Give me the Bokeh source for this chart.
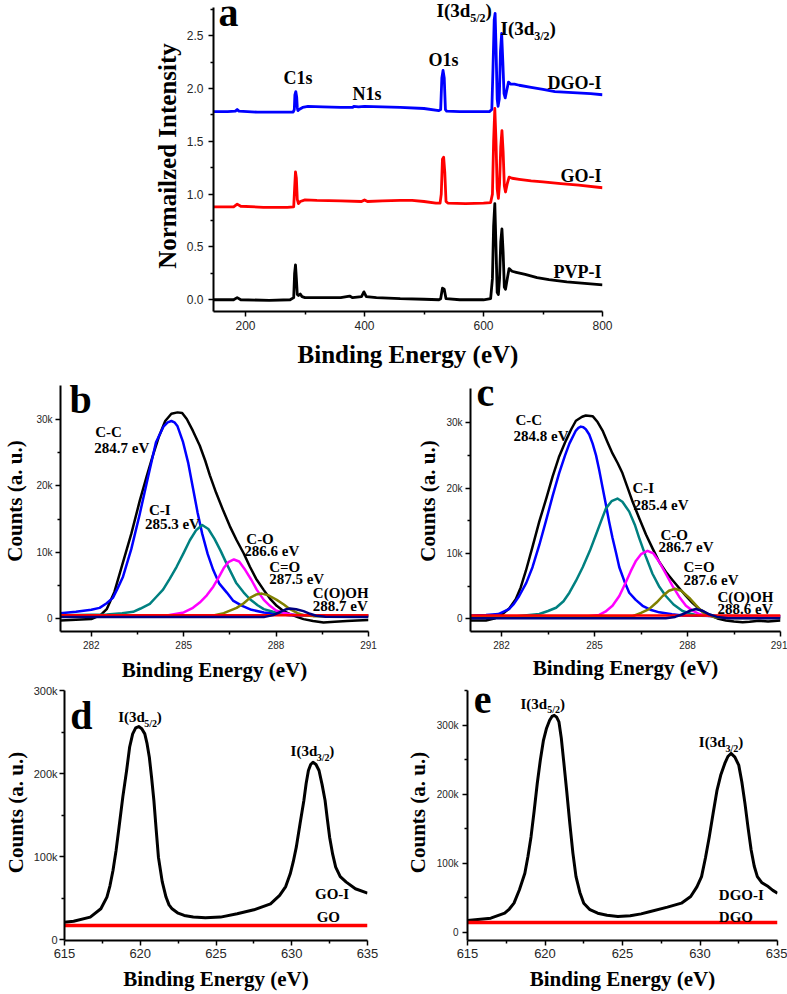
from bokeh.plotting import figure
from bokeh.models import Range1d, FixedTicker, Label, NumeralTickFormatter
from bokeh.layouts import column, row
from bokeh.embed import file_html
from bokeh.resources import INLINE

SERIF = "Liberation Serif"
SANS = "Liberation Sans"

# ---------------- panel a: XPS survey spectra (normalized) ----------------
a_dgo_x = [146, 170, 183, 186, 189, 220, 260, 280, 282, 283, 284.5, 286, 287, 288, 290, 296, 305, 330,
           360, 380, 382, 390, 400, 430, 460, 500, 525, 528, 530, 532, 534, 536, 538, 560, 590, 610,
           614, 616, 618, 619.5, 621, 623, 624.5, 626.5, 628.5, 630.5, 632.5, 634.5, 636.5, 639, 642,
           646, 652, 660, 680, 700, 720, 750, 780, 800]
a_dgo_y = [1.78, 1.78, 1.785, 1.80, 1.785, 1.775, 1.775, 1.775, 1.80, 1.94, 1.97, 1.92, 1.82, 1.79, 1.80,
           1.82, 1.83, 1.825, 1.82, 1.82, 1.83, 1.825, 1.83, 1.825, 1.82, 1.81, 1.79, 1.80, 2.10, 2.17,
           2.10, 1.80, 1.785, 1.78, 1.78, 1.78, 1.80, 2.20, 2.65, 2.71, 2.40, 1.90, 1.83, 1.90, 2.35,
           2.52, 2.25, 1.95, 1.91, 1.98, 2.06, 2.04, 2.04, 2.03, 2.01, 1.99, 1.97, 1.96, 1.95, 1.94]

a_go_x = [146, 180, 186, 192, 230, 270, 281, 282.5, 284, 285.5, 287, 289, 292, 300, 320, 360, 395, 400,
          405, 430, 460, 480, 500, 520, 527, 529, 531, 533, 535, 537, 540, 570, 600, 612, 615, 617,
          619, 621, 623, 625, 627, 629, 631, 633, 635, 637, 640, 643, 648, 660, 680, 700, 730, 760, 800]
a_go_y = [0.88, 0.88, 0.905, 0.885, 0.875, 0.875, 0.88, 1.05, 1.21, 1.15, 0.95, 0.91, 0.93, 0.945, 0.94,
          0.935, 0.93, 0.945, 0.93, 0.935, 0.94, 0.94, 0.93, 0.915, 0.915, 1.00, 1.33, 1.35, 1.20, 0.93,
          0.915, 0.91, 0.915, 0.92, 1.00, 1.50, 1.81, 1.50, 1.05, 0.96, 1.10, 1.45, 1.60, 1.40, 1.08,
          1.02, 1.10, 1.16, 1.15, 1.14, 1.125, 1.115, 1.10, 1.085, 1.06]

a_pvp_x = [146, 180, 186, 192, 240, 275, 281, 282.5, 284, 285.5, 287, 289, 292, 295, 300, 320, 360, 370,
           375, 380, 395, 399, 403, 420, 460, 500, 525, 528, 531, 534, 537, 560, 600, 612, 615, 617,
           619, 621, 623, 625, 627, 629, 631, 633, 635, 637, 640, 643, 648, 655, 670, 690, 710, 740,
           770, 800]
a_pvp_y = [0.0, 0.0, 0.02, 0.0, -0.005, 0.0, 0.02, 0.25, 0.33, 0.20, 0.05, 0.04, 0.055, 0.03, 0.02, 0.02,
           0.02, 0.03, 0.035, 0.02, 0.03, 0.075, 0.03, 0.02, 0.01, 0.005, 0.0, 0.01, 0.11, 0.10, 0.01,
           0.0, 0.0, 0.01, 0.20, 0.70, 0.91, 0.50, 0.07, 0.05, 0.20, 0.55, 0.67, 0.45, 0.12, 0.10, 0.20,
           0.295, 0.27, 0.26, 0.24, 0.21, 0.19, 0.17, 0.155, 0.14]

# ---------------- panel b: C1s of GO-I (counts in thousands) ----------------
b_env_x = [281.0, 281.5, 282.0, 282.3, 282.5, 282.75, 283.0, 283.3, 283.57, 283.8, 284.0, 284.2, 284.4,
           284.6, 284.8, 284.95, 285.1, 285.3, 285.52, 285.7, 285.85, 286.05, 286.29, 286.5, 286.72,
           286.95, 287.15, 287.35, 287.59, 287.8, 288.02, 288.25, 288.45, 288.7, 288.89, 289.2, 289.54,
           289.9, 290.3, 290.63, 291.0]
b_env_y = [-0.3, -0.2, -0.1, 0.5, 1.4, 4.0, 8.0, 12.8, 17.7, 21.5, 24.6, 27.5, 29.8, 30.9, 31.1, 31.0,
           30.1, 28.3, 26.1, 23.8, 21.6, 19.0, 16.2, 13.9, 11.8, 9.8, 7.8, 6.0, 4.35, 3.0, 1.9, 1.1, 0.65,
           0.2, -0.1, -0.4, -0.6, -0.5, -0.4, -0.3, -0.25]
b_cc_x = [281.0, 281.5, 282.0, 282.27, 282.5, 282.7, 282.85, 283.03, 283.3, 283.57, 283.85, 284.1, 284.35,
          284.48, 284.6, 284.7, 284.8, 284.98, 285.15, 285.3, 285.45, 285.6, 285.78, 285.96, 286.15, 286.4,
          286.6, 286.9, 287.2, 287.6, 288.0, 288.45, 289.0, 290.0, 291.0]
b_cc_y = [0.8, 1.0, 1.3, 1.6, 2.3, 3.1, 4.5, 6.3, 10.5, 15.7, 21.5, 26.6, 29.0, 29.6, 29.8, 29.6, 29.0,
          26.6, 23.4, 19.7, 16.0, 12.8, 9.7, 7.3, 5.3, 3.9, 2.7, 1.9, 1.3, 0.9, 0.7, 0.5, 0.45, 0.4, 0.4]
b_ci_x = [281.0, 282.0, 282.5, 283.0, 283.36, 283.6, 283.9, 284.1, 284.33, 284.55, 284.77, 285.0, 285.2,
          285.4, 285.6, 285.8, 286.0, 286.2, 286.4, 286.7, 286.95, 287.15, 287.4, 287.6, 287.9, 288.2,
          288.6, 289.0, 291.0]
b_ci_y = [0.5, 0.55, 0.6, 0.8, 1.0, 1.5, 2.2, 3.2, 4.35, 6.0, 7.8, 9.9, 11.8, 13.3, 14.1, 13.5, 12.0, 10.2,
          8.2, 5.4, 3.9, 2.9, 2.0, 1.4, 1.0, 0.7, 0.55, 0.5, 0.5]
b_co_x = [281.0, 284.5, 285.0, 285.3, 285.52, 285.75, 285.96, 286.15, 286.3, 286.45, 286.63, 286.8, 287.0,
          287.2, 287.37, 287.6, 287.8, 288.0, 288.2, 288.5, 289.0, 291.0]
b_co_y = [0.5, 0.5, 0.9, 1.6, 2.4, 3.5, 4.8, 6.3, 7.6, 8.5, 8.9, 8.6, 7.3, 5.8, 4.35, 2.8, 1.9, 1.2, 0.9,
          0.6, 0.5, 0.5]
b_cdo_x = [281.0, 286.0, 286.3, 286.72, 286.95, 287.15, 287.35, 287.54, 287.75, 288.02, 288.25, 288.45,
           288.7, 288.89, 289.2, 291.0]
b_cdo_y = [0.5, 0.5, 0.8, 1.6, 2.3, 3.1, 3.6, 3.75, 3.5, 2.8, 2.1, 1.4, 0.8, 0.5, 0.35, 0.3]
b_cooh_x = [281.0, 287.6, 287.9, 288.1, 288.3, 288.45, 288.65, 288.89, 289.1, 289.3, 289.6, 291.0]
b_cooh_y = [0.2, 0.2, 0.5, 0.9, 1.35, 1.5, 1.4, 1.1, 0.7, 0.4, 0.25, 0.2]
b_base_x = [281.0, 291.0]
b_base_y = [0.5, 0.5]

# ---------------- panel c: C1s of DGO-I (counts in thousands) ----------------
c_env_x = [281.0, 281.5, 281.8, 282.03, 282.25, 282.46, 282.62, 282.79, 283.0, 283.22, 283.45, 283.65,
           283.85, 284.08, 284.25, 284.4, 284.6, 284.72, 284.94, 285.1, 285.26, 285.42, 285.58, 285.75,
           285.9, 286.05, 286.23, 286.45, 286.66, 286.88, 287.09, 287.3, 287.52, 287.75, 287.95, 288.15,
           288.38, 288.6, 288.81, 289.0, 289.24, 289.5, 289.78, 290.0, 290.31, 290.6, 291.0]
c_env_y = [-0.25, -0.25, 0.1, 0.74, 1.6, 3.0, 4.8, 7.4, 11.0, 14.9, 18.5, 21.8, 24.7, 27.3, 29.0, 30.3,
           30.9, 31.1, 31.0, 30.1, 28.8, 27.0, 25.3, 23.8, 22.3, 20.3, 17.9, 15.3, 12.9, 10.7, 8.7, 7.2,
           5.9, 4.6, 3.5, 2.5, 1.5, 0.9, 0.4, 0.0, -0.25, -0.4, -0.5, -0.45, -0.3, -0.4, -0.25]
c_cc_x = [281.0, 281.5, 281.9, 282.24, 282.4, 282.57, 282.8, 283.0, 283.22, 283.43, 283.65, 283.86, 284.05,
          284.19, 284.4, 284.48, 284.56, 284.64, 284.72, 284.83, 284.94, 285.05, 285.15, 285.26, 285.37,
          285.47, 285.58, 285.7, 285.8, 285.96, 286.12, 286.33, 286.55, 286.8, 287.09, 287.5, 287.84,
          289.0, 291.0]
c_cc_y = [0.5, 0.6, 0.74, 1.5, 2.3, 3.5, 5.5, 7.9, 11.3, 14.9, 18.8, 22.3, 25.0, 26.8, 28.8, 29.2, 29.4,
          29.3, 29.0, 28.2, 26.8, 25.0, 22.8, 20.1, 17.4, 14.9, 12.4, 10.0, 7.9, 5.8, 4.0, 2.9, 2.0, 1.4,
          1.0, 0.7, 0.5, 0.45, 0.4]
c_ci_x = [281.0, 282.5, 283.22, 283.5, 283.76, 284.0, 284.19, 284.4, 284.62, 284.85, 285.05, 285.2, 285.37,
          285.55, 285.74, 285.9, 286.12, 286.3, 286.44, 286.65, 286.87, 287.08, 287.3, 287.55, 287.84,
          288.1, 288.38, 289.0, 291.0]
c_ci_y = [0.4, 0.4, 0.74, 1.2, 1.7, 2.7, 4.0, 5.8, 7.9, 10.4, 12.9, 14.8, 16.9, 18.0, 18.4, 17.9, 16.4,
          14.4, 12.4, 9.6, 6.9, 5.0, 3.5, 2.2, 1.2, 0.8, 0.5, 0.4, 0.4]
c_co_x = [281.0, 284.8, 285.15, 285.35, 285.58, 285.8, 286.0, 286.17, 286.34, 286.5, 286.71, 286.9, 287.09,
          287.3, 287.52, 287.73, 287.95, 288.15, 288.38, 288.7, 291.0]
c_co_y = [0.4, 0.4, 0.6, 1.1, 2.0, 3.5, 5.5, 7.3, 8.9, 9.9, 10.4, 10.0, 8.7, 6.9, 5.0, 3.4, 2.0, 1.3, 0.74,
          0.45, 0.4]
c_cdo_x = [281.0, 285.8, 286.23, 286.5, 286.76, 287.0, 287.2, 287.4, 287.6, 287.8, 288.06, 288.27, 288.49,
           288.7, 288.92, 289.3, 291.0]
c_cdo_y = [0.3, 0.3, 0.4, 0.9, 1.5, 2.5, 3.5, 4.3, 4.6, 4.3, 3.2, 2.1, 1.0, 0.5, 0.2, 0.15, 0.15]
c_cooh_x = [281.0, 287.3, 287.6, 287.84, 288.05, 288.27, 288.5, 288.7, 288.95, 289.3, 291.0]
c_cooh_y = [0.1, 0.1, 0.3, 0.7, 1.2, 1.5, 1.2, 0.7, 0.3, 0.1, 0.1]
c_base_x = [281.0, 291.0]
c_base_y = [0.5, 0.5]

# ---------------- panel d: I3d of GO-I vs GO (counts in thousands) ----------------
d_goi_x = [615.0, 615.6, 616.7, 617.4, 617.8, 618.0, 618.2, 618.4, 618.6, 618.85, 619.1, 619.3, 619.5,
           619.7, 619.9, 620.1, 620.3, 620.45, 620.6, 620.75, 620.9, 621.05, 621.2, 621.45, 621.7, 621.9,
           622.1, 622.5, 622.9, 623.5, 624.3, 625.3, 626.4, 627.5, 628.6, 629.2, 629.6, 629.9, 630.1,
           630.3, 630.55, 630.8, 630.95, 631.1, 631.25, 631.4, 631.6, 631.8, 632.0, 632.2, 632.35, 632.5,
           632.7, 632.9, 633.2, 633.6, 634.2, 635.0]
d_goi_y = [21.2, 22.4, 27.3, 37.3, 51.4, 65.0, 83.4, 107.0, 135.5, 172.0, 203.7, 232.0, 247.8, 255.0,
           256.6, 254.0, 247.8, 236.0, 219.7, 195.0, 167.6, 133.0, 99.4, 70.0, 51.4, 42.0, 37.3, 32.0,
           29.3, 27.5, 26.5, 27.3, 31.3, 36.1, 43.3, 53.4, 64.0, 79.4, 94.0, 111.5, 140.0, 167.6, 188.0,
           203.7, 211.0, 213.7, 211.0, 203.7, 187.0, 167.6, 145.0, 123.5, 103.0, 87.4, 76.0, 69.4, 61.4,
           56.2]
d_go_x = [615.0, 620.0, 625.0, 630.0, 635.0]
d_go_y = [17.2, 17.3, 17.2, 17.3, 17.2]

# ---------------- panel e: I3d of DGO-I vs DGO (counts in thousands) ----------------
e_dgoi_x = [615.0, 616.5, 617.4, 617.7, 618.0, 618.35, 618.7, 618.9, 619.1, 619.3, 619.5, 619.7, 619.9,
            620.1, 620.3, 620.45, 620.6, 620.75, 620.9, 621.05, 621.2, 621.4, 621.6, 621.8, 622.0, 622.25,
            622.5, 622.9, 623.4, 624.0, 624.7, 625.5, 626.2, 626.8, 627.9, 628.8, 629.4, 629.8, 630.1,
            630.35, 630.6, 630.85, 631.1, 631.35, 631.6, 631.8, 632.0, 632.25, 632.5, 632.7, 632.9, 633.1,
            633.3, 633.5, 633.7, 634.0, 634.4, 634.7, 635.0]
e_dgoi_y = [17.4, 20.8, 28.0, 34.0, 42.5, 62.0, 85.8, 110.0, 138.8, 176.0, 215.9, 250.0, 278.5, 296.0,
            307.4, 313.0, 314.6, 312.0, 305.0, 282.0, 249.5, 205.0, 158.1, 115.0, 81.0, 58.0, 42.5, 33.0,
            28.0, 25.0, 23.2, 24.2, 27.0, 30.4, 36.7, 42.5, 52.1, 66.0, 81.0, 108.0, 138.8, 173.0, 206.3,
            229.0, 244.9, 255.0, 259.4, 254.0, 242.5, 218.0, 187.1, 152.0, 119.6, 96.0, 81.0, 72.0, 66.5,
            61.0, 56.9]
e_dgo_x = [615.0, 620.0, 625.0, 630.0, 635.0]
e_dgo_y = [14.5, 14.6, 14.5, 14.6, 14.5]

# ---------------- layout (page pixels, origin at page top-left) ----------------
# fig box: (left, top, width, height); axes box: (left, top, right, bottom) with the y range it spans.
# The drawing frame is extended up to the figure top (so labels are not clipped); the axis line
# itself is bounded to the axes box.
LAY = {
    "a": dict(fig=(0, 0, 787, 370), box=(213, 7, 602, 317), xr=(146.2, 800.0), yr=(-0.111, 2.767)),
    "b": dict(fig=(0, 370, 388, 314), box=(58, 385, 368, 636), xr=(281.0, 291.0), yr=(-1970, 35200)),
    "c": dict(fig=(388, 370, 399, 314), box=(470, 388, 780, 638), xr=(281.0, 291.0), yr=(-1930, 35300)),
    "d": dict(fig=(0, 684, 388, 310), box=(57, 690, 367, 940), xr=(615.0, 635.0), yr=(-850, 300000)),
    "e": dict(fig=(388, 684, 399, 310), box=(467, 690, 777, 940), xr=(615.0, 635.0), yr=(-11600, 350600)),
}


def to_data(key, px, py):
    L = LAY[key]
    fl, ft, fr, fb = L["box"]
    x0, x1 = L["xr"]
    y0, y1 = L["yr"]
    x = x0 + (px - fl) / (fr - fl) * (x1 - x0)
    y = y1 - (py - ft) / (fb - ft) * (y1 - y0)
    return x, y


def make_fig(key, xmaj, xmin, ymaj, ymin, xfs, yfs, xstand, ystand,
             title_size, xtitle_standoff, ytitle, ytitle_standoff):
    L = LAY[key]
    fx, fy, fw, fh = L["fig"]
    fl, ft, fr, fb = L["box"]
    y_top = to_data(key, fl, fy)[1]
    p = figure(width=fw, height=fh, x_range=Range1d(*L["xr"]), y_range=Range1d(L["yr"][0], y_top),
               output_backend="svg", toolbar_location=None,
               min_border_left=fl - fx, min_border_right=fx + fw - fr,
               min_border_top=0, min_border_bottom=fy + fh - fb)
    p.outline_line_color = None
    p.xgrid.visible = False
    p.ygrid.visible = False
    p.background_fill_color = "white"
    p.border_fill_color = "white"
    p.xaxis.ticker = FixedTicker(ticks=xmaj, minor_ticks=xmin)
    p.yaxis.ticker = FixedTicker(ticks=ymaj, minor_ticks=ymin)
    p.yaxis.bounds = L["yr"]
    p.xaxis.axis_label = "Binding Energy (eV)"
    p.yaxis.axis_label = ytitle
    for ax, fs, st, tst in ((p.xaxis[0], xfs, xstand, xtitle_standoff),
                            (p.yaxis[0], yfs, ystand, ytitle_standoff)):
        ax.axis_line_width = 2
        ax.axis_line_color = "black"
        ax.major_tick_in = 0
        ax.major_tick_out = 5
        ax.minor_tick_in = 0
        ax.minor_tick_out = 3
        ax.major_tick_line_width = 1.5
        ax.minor_tick_line_width = 1.5
        ax.major_tick_line_color = "black"
        ax.minor_tick_line_color = "black"
        ax.major_label_text_font = SANS
        ax.major_label_text_font_size = fs
        ax.major_label_text_color = "#262626"
        ax.major_label_standoff = st
        ax.axis_label_text_font = SERIF
        ax.axis_label_text_font_style = "bold"
        ax.axis_label_text_font_size = title_size
        ax.axis_label_text_color = "black"
        ax.axis_label_standoff = tst
    return p


def txt(p, key, px, py, text, size, align="left"):
    # (px, py) is the text's left (or right) end on its baseline, in page pixels
    x, y = to_data(key, px, py - 0.34 * size)
    p.add_layout(Label(x=x, y=y, text=text, text_font=SERIF, text_font_size=f"{size}px",
                       text_font_style="bold", text_color="black",
                       text_align=align, text_baseline="middle"))


def iodine(p, key, px, py, sub, size):
    ssize = round(size * 0.65)
    w_main = 1.778 * size
    w_sub = 1.278 * ssize
    txt(p, key, px, py, "I(3d", size)
    txt(p, key, px + w_main, py + 0.28 * size, sub, ssize)
    txt(p, key, px + w_main + w_sub, py, ")", size)


k = lambda vals: [v * 1000 for v in vals]

# ---------------- figure a ----------------
pa = make_fig("a", [200, 400, 600, 800], [300, 500, 700],
              [0, 0.5, 1.0, 1.5, 2.0, 2.5], [0.25, 0.75, 1.25, 1.75, 2.25, 2.75],
              "12px", "12px", 4, 5, "25px", 8, "Normailzed Intensity", 3)
pa.yaxis[0].formatter = NumeralTickFormatter(format="0.0")
pa.line(a_dgo_x, a_dgo_y, line_color="#0000FF", line_width=2.8, line_join="round")
pa.line(a_go_x, a_go_y, line_color="#FF0000", line_width=2.8, line_join="round")
pa.line(a_pvp_x, a_pvp_y, line_color="black", line_width=2.8, line_join="round")
txt(pa, "a", 218, 26, "a", 40)
txt(pa, "a", 283, 85, "C1s", 18)
txt(pa, "a", 352, 101.7, "N1s", 18)
txt(pa, "a", 428, 66.7, "O1s", 18)
iodine(pa, "a", 436, 17, "5/2", 19)
iodine(pa, "a", 500, 35, "3/2", 19)
txt(pa, "a", 601, 90, "DGO-I", 18, align="right")
txt(pa, "a", 601, 185, "GO-I", 18, align="right")
txt(pa, "a", 601, 283.3, "PVP-I", 18, align="right")

# ---------------- figure b ----------------
yk_b = {0: "0", 10000: "10k", 20000: "20k", 30000: "30k"}
pb = make_fig("b", [282, 285, 288, 291], [283.5, 286.5, 289.5],
              [0, 10000, 20000, 30000], [5000, 15000, 25000], "10px", "10px", 4, 3,
              "21px", 6, "Counts (a. u.)", 6)
pb.yaxis[0].major_label_overrides = yk_b
pb.line(b_env_x, k(b_env_y), line_color="black", line_width=2.5, line_join="round")
pb.line(b_cc_x, k(b_cc_y), line_color="#0000FF", line_width=2.5, line_join="round")
pb.line(b_ci_x, k(b_ci_y), line_color="#008080", line_width=2.5, line_join="round")
pb.line(b_co_x, k(b_co_y), line_color="#FF00FF", line_width=2.5, line_join="round")
pb.line(b_cdo_x, k(b_cdo_y), line_color="#808000", line_width=2.5, line_join="round")
pb.line(b_base_x, k(b_base_y), line_color="#FF0000", line_width=2.5)
pb.line(b_cooh_x, k(b_cooh_y), line_color="#000080", line_width=2.5, line_join="round")
txt(pb, "b", 67, 413.3, "b", 40)
for (px, py, t) in [(93, 437.3, "C-C"), (92, 454, "284.7 eV"), (147, 517.3, "C-I"), (143, 531.7, "285.3 eV"),
                    (245, 546.7, "C-O"), (243, 559.3, "286.6 eV"), (268, 575, "C=O"), (268, 587.3, "287.5 eV"),
                    (312, 601.7, "C(O)OH"), (312, 615, "288.7 eV")]:
    txt(pb, "b", px, py, t, 15)

# ---------------- figure c ----------------
pc = make_fig("c", [282, 285, 288, 291], [283.5, 286.5, 289.5],
              [0, 10000, 20000, 30000], [5000, 15000, 25000], "10px", "10px", 4, 3,
              "21px", 4, "Counts (a. u.)", 3)
pc.yaxis[0].major_label_overrides = yk_b
pc.line(c_env_x, k(c_env_y), line_color="black", line_width=2.5, line_join="round")
pc.line(c_cc_x, k(c_cc_y), line_color="#0000FF", line_width=2.5, line_join="round")
pc.line(c_ci_x, k(c_ci_y), line_color="#008080", line_width=2.5, line_join="round")
pc.line(c_co_x, k(c_co_y), line_color="#FF00FF", line_width=2.5, line_join="round")
pc.line(c_cdo_x, k(c_cdo_y), line_color="#808000", line_width=2.5, line_join="round")
pc.line(c_base_x, k(c_base_y), line_color="#FF0000", line_width=2.5)
pc.line(c_cooh_x, k(c_cooh_y), line_color="#000080", line_width=2.5, line_join="round")
txt(pc, "c", 476, 405.7, "c", 40)
for (px, py, t) in [(515, 425.7, "C-C"), (513, 442.3, "284.8 eV"), (632, 496, "C-I"), (633, 513.3, "285.4 eV"),
                    (660, 544.3, "C-O"), (658, 556.7, "286.7 eV"), (683, 576.7, "C=O"), (683, 590, "287.6 eV"),
                    (717, 607.7, "C(O)OH"), (717, 620, "288.6 eV")]:
    txt(pc, "c", px, py, t, 15)

# ---------------- figure d ----------------
yk_d = {0: "0", 100000: "100k", 200000: "200k", 300000: "300k"}
pd_ = make_fig("d", [615, 620, 625, 630, 635], [617.5, 622.5, 627.5, 632.5],
               [0, 100000, 200000, 300000], [50000, 150000, 250000], "13px", "11px", 3, 2,
               "21px", 6, "Counts (a. u.)", 3)
pd_.yaxis[0].major_label_overrides = yk_d
pd_.line(d_goi_x, k(d_goi_y), line_color="black", line_width=3, line_join="round")
pd_.line(d_go_x, k(d_go_y), line_color="#FF0000", line_width=3.5)
txt(pd_, "d", 63, 728.3, "d", 40)
iodine(pd_, "d", 112, 721.7, "5/2", 15)
iodine(pd_, "d", 288.3, 756, "3/2", 15)
txt(pd_, "d", 313.3, 898.3, "GO-I", 15)
txt(pd_, "d", 315, 921.7, "GO", 15)

# ---------------- figure e ----------------
pe = make_fig("e", [615, 620, 625, 630, 635], [617.5, 622.5, 627.5, 632.5],
              [0, 100000, 200000, 300000], [50000, 150000, 250000, 350000], "13px", "10px", 3, 4,
              "21px", 6, "Counts (a. u.)", 4)
pe.yaxis[0].major_label_overrides = yk_d
pe.line(e_dgoi_x, k(e_dgoi_y), line_color="black", line_width=3, line_join="round")
pe.line(e_dgo_x, k(e_dgo_y), line_color="#FF0000", line_width=3.5)
txt(pe, "e", 473.3, 712.7, "e", 40)
iodine(pe, "e", 520, 708.3, "5/2", 15)
iodine(pe, "e", 698.3, 746.7, "3/2", 15)
txt(pe, "e", 718.3, 900, "DGO-I", 15)
txt(pe, "e", 718.3, 921.7, "DGO", 15)

layout = column(pa, row(pb, pc), row(pd_, pe))
open("out.html", "w").write(file_html(layout, INLINE))
